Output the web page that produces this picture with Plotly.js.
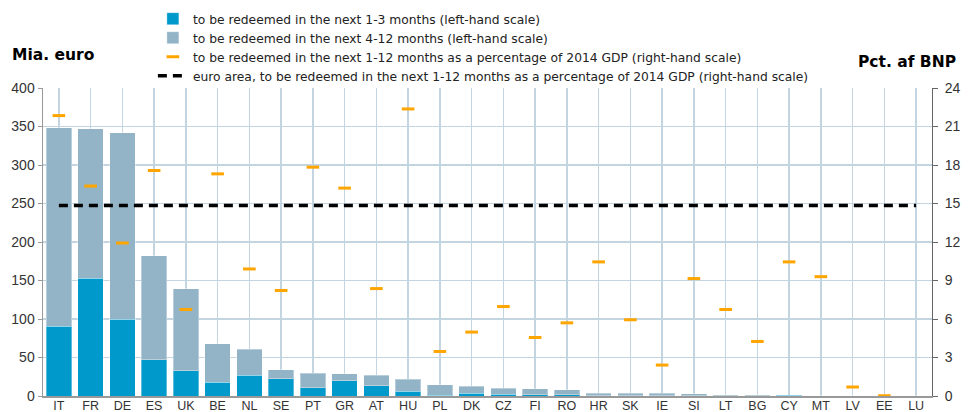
<!DOCTYPE html>
<html>
<head>
<meta charset="utf-8">
<script src="https://cdn.plot.ly/plotly-3.0.1.min.js"></script>
<style>html,body{margin:0;padding:0;background:#fff;}#chart{width:980px;height:412px;}</style>
</head>
<body>
<div id="chart"></div>
<script>
const countries = ["IT","FR","DE","ES","UK","BE","NL","SE","PT","GR","AT","HU","PL","DK","CZ","FI","RO","HR","SK","IE","SI","LT","BG","CY","MT","LV","EE","LU"];
const months1to3 = [90.7,153,100,47,33,18,27,22.5,11,19.5,13,6.5,1.3,3.5,2.6,1.7,1.7,0.4,0.4,0.4,0.3,0.2,0.2,0.8,0,0,0,0];
const months4to12 = [258,194,242,135,106,50,34,11.5,18.5,9.5,14,15,13,9,7.3,7.4,6.5,3.5,3.5,3.5,2.7,1.5,1.5,0.2,0.2,0.1,0.05,0.05];
const pctGDP = [21.85,16.36,11.92,17.57,6.74,17.31,9.9,8.22,17.83,16.2,8.37,22.37,3.47,4.98,6.97,4.56,5.7,10.45,5.94,2.41,9.15,6.74,4.25,10.45,9.3,0.7,0.02,-0.1];
const euroArea = 14.85;
const leftTicks = [0,50,100,150,200,250,300,350,400];
const rightTicks = [0,3,6,9,12,15,18,21,24];

const traces = [
  {type:'bar', x:countries, y:months1to3, name:'to be redeemed in the next 1-3 months (left-hand scale)',
   marker:{color:'#0099CC', line:{color:'rgba(255,255,255,0.35)', width:1}}, width:0.8},
  {type:'bar', x:countries, y:months4to12, name:'to be redeemed in the next 4-12 months (left-hand scale)',
   marker:{color:'#93B4C6', line:{color:'rgba(255,255,255,0.35)', width:1}}, width:0.8},
  {type:'scatter', mode:'markers', x:countries, y:pctGDP, yaxis:'y2', cliponaxis:false,
   name:'to be redeemed in the next 1-12 months as a percentage of 2014 GDP (right-hand scale)',
   marker:{symbol:'line-ew', size:9, color:'#FFA500', line:{color:'#FFA500', width:3}}},
  {type:'scatter', mode:'lines', x:[countries[0], countries[countries.length-1]], y:[euroArea, euroArea], yaxis:'y2',
   name:'euro area, to be redeemed in the next 1-12 months as a percentage of 2014 GDP (right-hand scale)',
   line:{color:'#000', width:3.5, dash:'9px,6px'}}
];

const yTickFont = {family:'Liberation Sans, Arial, sans-serif', size:14, color:'#333'};
const xTickFont = {family:'Liberation Sans, Arial, sans-serif', size:12.5, color:'#333'};
const layout = {
  width:980, height:412,
  margin:{l:43, r:48, t:88, b:16, pad:0, autoexpand:false},
  paper_bgcolor:'#fff', plot_bgcolor:'#fff',
  barmode:'stack', bargap:0.2,
  showlegend:true,
  legend:{x:0.1236, y:1.272, xanchor:'left', yanchor:'top', traceorder:'normal',
          font:{family:'DejaVu Sans, sans-serif', size:12.3, color:'#222'},
          bgcolor:'rgba(0,0,0,0)', tracegroupgap:0, itemwidth:30},
  xaxis:{type:'category', range:[-0.5,27.5], showgrid:true, gridcolor:'#C3D5E1', gridwidth:1.5,
         showline:true, linecolor:'#999', linewidth:1.5, ticks:'', tickfont:xTickFont, ticklabelstandoff:-3,
         automargin:false, fixedrange:true},
  yaxis:{range:[0,400], tickvals:leftTicks, showgrid:true, gridcolor:'#C3D5E1', gridwidth:1.5,
         showline:true, linecolor:'#999', linewidth:1.5, ticks:'outside', ticklen:4, tickcolor:'#999',
         tickfont:yTickFont, zeroline:false, automargin:false},
  yaxis2:{range:[0,24], tickvals:rightTicks, overlaying:'y', side:'right', showgrid:false,
          showline:true, linecolor:'#666', linewidth:1, ticks:'outside', ticklen:5, tickcolor:'#666',
          tickfont:yTickFont, ticklabelstandoff:4, zeroline:false, automargin:false},
  annotations:[
    {text:'<b>Mia. euro</b>', xref:'paper', yref:'paper', x:-0.0371, y:1.107, xanchor:'left', yanchor:'middle',
     showarrow:false, font:{family:'DejaVu Sans, Verdana, sans-serif', size:15.5, color:'#000'}},
    {text:'<b>Pct. af BNP</b>', xref:'paper', yref:'paper', x:1.0293, y:1.084, xanchor:'right', yanchor:'middle',
     showarrow:false, font:{family:'DejaVu Sans, Verdana, sans-serif', size:15.5, color:'#000'}}
  ]
};
Plotly.newPlot('chart', traces, layout, {displayModeBar:false, staticPlot:true});
</script>
</body>
</html>
